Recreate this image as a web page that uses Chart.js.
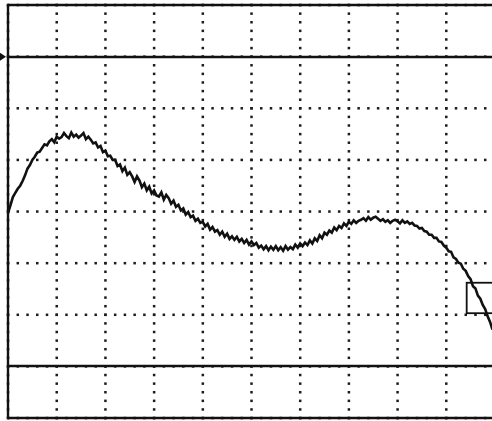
<!DOCTYPE html>
<html>
<head>
<meta charset="utf-8">
<script src="https://cdn.jsdelivr.net/npm/chart.js@4.4.0/dist/chart.umd.min.js"></script>
<style>
html, body { margin: 0; padding: 0; background: #fff; }
canvas { display: block; }
</style>
</head>
<body>
<canvas id="scope" width="492" height="421"></canvas>
<script>
// trace, in divisions (one sample every 0.05 div)
const SAMPLE_STEP = 0.05;
const traceValues = [
    3.97, 4.12, 4.28, 4.36, 4.44, 4.50, 4.59, 4.70, 4.83, 4.90,
    5.00, 5.06, 5.14, 5.16, 5.23, 5.30, 5.28, 5.36, 5.40, 5.34,
    5.45, 5.41, 5.44, 5.52, 5.46, 5.42, 5.53, 5.45, 5.49, 5.43,
    5.47, 5.52, 5.40, 5.45, 5.39, 5.32, 5.34, 5.24, 5.27, 5.15,
    5.18, 5.07, 5.08, 5.00, 5.00, 4.88, 4.91, 4.78, 4.85, 4.71,
    4.76, 4.68, 4.57, 4.68, 4.60, 4.47, 4.54, 4.41, 4.48, 4.35,
    4.41, 4.31, 4.29, 4.37, 4.23, 4.32, 4.26, 4.15, 4.21, 4.09,
    4.13, 4.02, 4.06, 3.94, 3.99, 3.89, 3.92, 3.82, 3.86, 3.78,
    3.80, 3.71, 3.76, 3.65, 3.70, 3.61, 3.64, 3.55, 3.61, 3.51,
    3.57, 3.47, 3.52, 3.45, 3.51, 3.42, 3.47, 3.39, 3.45, 3.36,
    3.42, 3.35, 3.39, 3.30, 3.34, 3.27, 3.33, 3.25, 3.32, 3.26,
    3.33, 3.25, 3.31, 3.24, 3.33, 3.26, 3.31, 3.27, 3.36, 3.30,
    3.38, 3.33, 3.40, 3.35, 3.44, 3.38, 3.48, 3.43, 3.54, 3.48,
    3.59, 3.55, 3.63, 3.59, 3.69, 3.64, 3.72, 3.68, 3.77, 3.72,
    3.80, 3.76, 3.83, 3.78, 3.82, 3.84, 3.87, 3.82, 3.89, 3.84,
    3.88, 3.90, 3.86, 3.82, 3.85, 3.80, 3.83, 3.78, 3.82, 3.84,
    3.81, 3.77, 3.83, 3.78, 3.81, 3.76, 3.78, 3.73, 3.72, 3.67,
    3.68, 3.62, 3.61, 3.55, 3.55, 3.49, 3.49, 3.42, 3.41, 3.34,
    3.30, 3.23, 3.22, 3.11, 3.08, 3.01, 2.99, 2.89, 2.85, 2.75,
    2.69, 2.55, 2.51, 2.37, 2.31, 2.19, 2.11, 1.97, 1.86, 1.71
];

const xDivisions = [0, 1, 2, 3, 4, 5, 6, 7, 8, 9];
const yDivisions = [0, 1, 2, 3, 4, 5, 6, 7, 8];
const solidLevels = [0, 1, 7, 8];
const markerLevel = 7;
const zoomBoxX = [9.42, 10.2];
const zoomBoxY = [2.03, 2.62];

const ink = '#111';

const scopeGrid = {
    id: 'scopeGrid',
    beforeDatasetsDraw(chart) {
        const { ctx, chartArea, scales: { x, y } } = chart;
        ctx.save();
        ctx.fillStyle = '#1c1c1c';

        // dotted verticals, 6 dots per division
        xDivisions.forEach(v => {
            const px = x.getPixelForValue(v);
            for (let s = 0; s <= 48; s++) {
                const py = y.getPixelForValue(s / 6);
                ctx.fillRect(px - 1.2, py - 1.2, 2.5, 2.5);
            }
        });

        // dotted horizontals, 5 dots per division
        yDivisions.forEach(v => {
            const py = y.getPixelForValue(v);
            for (let s = 0; s <= 50; s++) {
                const px = x.getPixelForValue(s / 5);
                if (px > chartArea.right) break;
                ctx.fillRect(px - 1.2, py - 1.2, 2.5, 2.5);
            }
        });

        // solid reference lines and left edge
        ctx.strokeStyle = ink;
        ctx.lineWidth = 2.4;
        solidLevels.forEach(v => {
            const py = Math.round(y.getPixelForValue(v));
            ctx.beginPath();
            ctx.moveTo(chartArea.left, py);
            ctx.lineTo(chartArea.right, py);
            ctx.stroke();
        });
        const lx = x.getPixelForValue(0);
        ctx.beginPath();
        ctx.moveTo(lx, y.getPixelForValue(8));
        ctx.lineTo(lx, y.getPixelForValue(0));
        ctx.stroke();

        // ground marker on the left
        const my = y.getPixelForValue(markerLevel);
        ctx.fillStyle = ink;
        ctx.beginPath();
        ctx.moveTo(lx - 8, my - 4);
        ctx.lineTo(lx - 2, my);
        ctx.lineTo(lx - 8, my + 4);
        ctx.closePath();
        ctx.fill();
        ctx.restore();
    },
    afterDatasetsDraw(chart) {
        const { ctx, scales: { x, y } } = chart;
        const x0 = x.getPixelForValue(zoomBoxX[0]);
        const x1 = x.getPixelForValue(zoomBoxX[1]);
        const y0 = y.getPixelForValue(zoomBoxY[1]);
        const y1 = y.getPixelForValue(zoomBoxY[0]);
        ctx.save();
        ctx.strokeStyle = ink;
        ctx.lineWidth = 1.8;
        ctx.strokeRect(x0, y0, x1 - x0, y1 - y0);
        ctx.restore();
    }
};

new Chart(document.getElementById('scope').getContext('2d'), {
    type: 'line',
    data: {
        datasets: [{
            data: traceValues.map((v, i) => ({ x: i * SAMPLE_STEP, y: v })),
            borderColor: ink,
            borderWidth: 2.6,
            pointRadius: 0,
            tension: 0,
            fill: false
        }]
    },
    options: {
        responsive: false,
        animation: false,
        layout: { padding: { left: 8, top: 5, right: 0, bottom: 3 } },
        plugins: {
            legend: { display: false },
            tooltip: { enabled: false }
        },
        scales: {
            x: { type: 'linear', min: 0, max: 9.94, display: false },
            y: { type: 'linear', min: 0, max: 8, display: false }
        }
    },
    plugins: [scopeGrid]
});
</script>
</body>
</html>
